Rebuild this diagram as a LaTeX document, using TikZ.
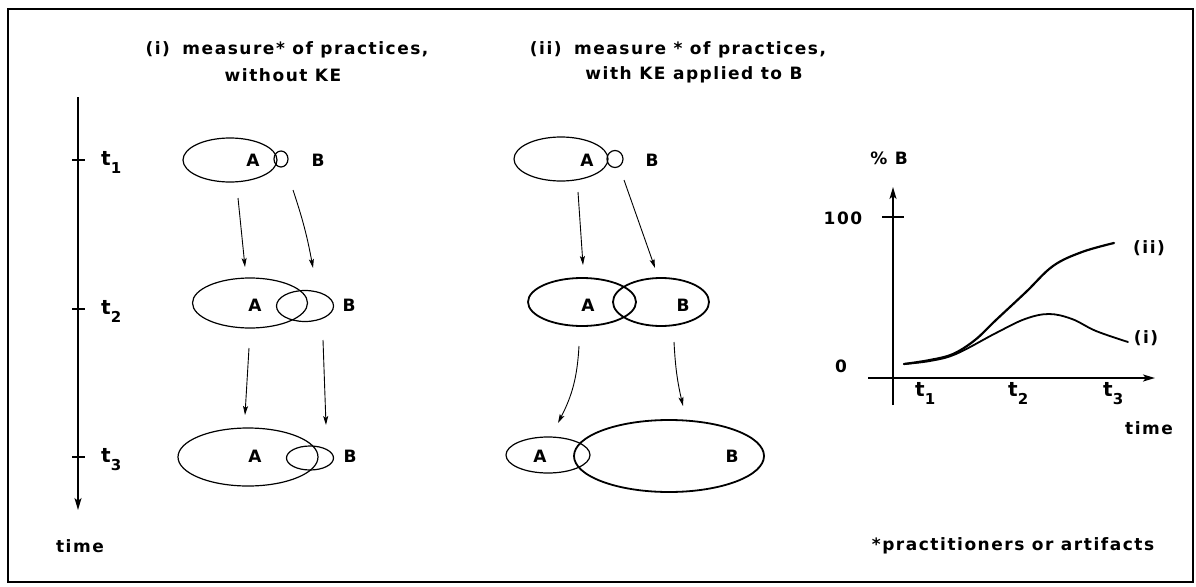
\documentclass[tikz,border=0pt]{standalone}
\usepackage{fontspec}
\setmainfont{DejaVu Sans}[LetterSpace=9]
\usetikzlibrary{shapes.geometric,arrows.meta}
\tikzset{
  lbl/.style={inner sep=0pt, font=\bfseries\fontsize{17}{20}\selectfont},
  tlbl/.style={inner sep=0pt, anchor=base west, font=\bfseries\fontsize{20}{20}\selectfont},
  ell/.style={ellipse, draw, line width=1.2pt, inner sep=0pt},
  ellb/.style={ellipse, draw, line width=1.8pt, inner sep=0pt},
  flow/.style={line width=0.9pt, -{Stealth[length=9pt,width=5pt,inset=2pt]}},
  axis/.style={line width=1.6pt, -{Stealth[length=12pt,width=7pt,inset=3pt]}},
  curve/.style={line width=1.8pt, line cap=round},
}
\newcommand{\sbs}[1]{\raisebox{-8pt}{\fontsize{15}{15}\selectfont #1}}
\begin{document}
\begin{tikzpicture}[x=1pt,y=-1pt]
\useasboundingbox (0,0) rectangle (1196,586);
% frame
\draw[line width=2.5pt] (8,9) rectangle (1193,582);

% titles
\node[lbl] (ti1) at (287,50) {(i)\hspace{5pt} measure* of practices,};
\node[lbl] (ti2) at (283,75) {without KE};
\node[lbl] (tii1) at (678,50) {(ii)\hspace{5pt} measure * of practices,};
\node[lbl] (tii2) at (694,75) {with KE applied to B};

% time axis
\coordinate (tax0) at (78,97);
\coordinate (tax1) at (78,510);
\draw[axis] (tax0) -- (tax1);
\foreach \y/\n in {160/1,309/2,457/3}{
  \draw[line width=1.2pt] (72,\y) -- (85,\y);
}
\node[tlbl] (lt1) at (101,165) {t\sbs{1}};
\node[tlbl] (lt2) at (101,314) {t\sbs{2}};
\node[tlbl] (lt3) at (101,462) {t\sbs{3}};
\node[lbl] (ltime) at (80,546) {time};

% ---- column (i)
\node[ell, minimum width=94pt, minimum height=44pt] (iA1) at (230,160) {};
\node[ell, minimum width=14pt, minimum height=16pt] (iB1) at (281,159) {};
\node[lbl] (iA1l) at (253,160) {A};
\node[lbl] (iB1l) at (318,160) {B};

\node[ell, minimum width=115pt, minimum height=50pt] (iA2) at (250,303) {};
\node[ell, minimum width=57pt, minimum height=31pt] (iB2) at (305,306) {};
\node[lbl] (iA2l) at (255,305) {A};
\node[lbl] (iB2l) at (349,305) {B};

\node[ell, minimum width=140pt, minimum height=58pt] (iA3) at (248,457) {};
\node[ell, minimum width=47pt, minimum height=24pt] (iB3) at (310,458) {};
\node[lbl] (iA3l) at (255,456) {A};
\node[lbl] (iB3l) at (350,456) {B};

\coordinate (ia1s) at (238,198); \coordinate (ia1e) at (245,267);
\coordinate (ib1s) at (293,190); \coordinate (ib1e) at (313,268);
\coordinate (ia2s) at (249,348); \coordinate (ia2e) at (245,415);
\coordinate (ib2s) at (323,340); \coordinate (ib2e) at (326,425);
\draw[flow] (ia1s) -- (ia1e);
\draw[flow] (ib1s) to[bend left=4] (ib1e);
\draw[flow] (ia2s) -- (ia2e);
\draw[flow] (ib2s) -- (ib2e);

% ---- column (ii)
\node[ell, minimum width=94pt, minimum height=44pt] (jA1) at (561,159) {};
\node[ell, minimum width=16pt, minimum height=17pt] (jB1) at (615,159) {};
\node[lbl] (jA1l) at (587,160) {A};
\node[lbl] (jB1l) at (652,160) {B};

\node[ellb, minimum width=108pt, minimum height=48pt] (jA2) at (582,302) {};
\node[ellb, minimum width=96pt, minimum height=48pt] (jB2) at (661,302) {};
\node[lbl] (jA2l) at (588,305) {A};
\node[lbl] (jB2l) at (683,305) {B};

\node[ell, minimum width=84pt, minimum height=36pt] (jA3) at (548,455) {};
\node[ellb, minimum width=190pt, minimum height=72pt] (jB3) at (669,456) {};
\node[lbl] (jA3l) at (540,456) {A};
\node[lbl] (jB3l) at (732,456) {B};

\coordinate (ja1s) at (578,192); \coordinate (ja1e) at (583,265);
\coordinate (jb1s) at (624,180); \coordinate (jb1e) at (655,268);
\coordinate (ja2s) at (579,346); \coordinate (ja2e) at (558,423);
\coordinate (jb2s) at (674,342); \coordinate (jb2e) at (683,406);
\draw[flow] (ja1s) -- (ja1e);
\draw[flow] (jb1s) -- (jb1e);
\draw[flow] (ja2s) to[bend left=12] (ja2e);
\draw[flow] (jb2s) to[bend right=5] (jb2e);

% ---- graph
\coordinate (yax0) at (893,405);
\coordinate (yax1) at (893,187);
\coordinate (xax0) at (868,378);
\coordinate (xax1) at (1155,378);
\draw[axis] (yax0) -- (yax1);
\draw[axis, line width=2pt] (xax0) -- (xax1);
\draw[line width=1.5pt] (882,217) -- (904,217);

\node[lbl] (pB) at (889,158) {\% B};
\node[lbl] (l100) at (843,218) {100};
\node[lbl] (l0) at (841,366) {0};
\node[lbl] (lii) at (1149,248) {(ii)};
\node[lbl] (li) at (1146,338) {(i)};
\node[lbl] (gtime) at (1149,428) {time};
\node[tlbl] (gt1) at (915,396) {t\sbs{1}};
\node[tlbl] (gt2) at (1008,396) {t\sbs{2}};
\node[tlbl] (gt3) at (1103,396) {t\sbs{3}};

\draw[curve, line width=2.2pt] plot[smooth, tension=0.6] coordinates
  {(904,364) (930,360) (953,354) (975,340) (996,320) (1026,292) (1053,266) (1082,252) (1114,243)};
\draw[curve] plot[smooth, tension=0.6] coordinates
  {(904,364) (930,361) (956,354) (996,333) (1025,319) (1049,314) (1072,319) (1096,331) (1128,342)};

\node[lbl] (foot) at (1013,546) {*practitioners or artifacts};
\end{tikzpicture}
\end{document}
